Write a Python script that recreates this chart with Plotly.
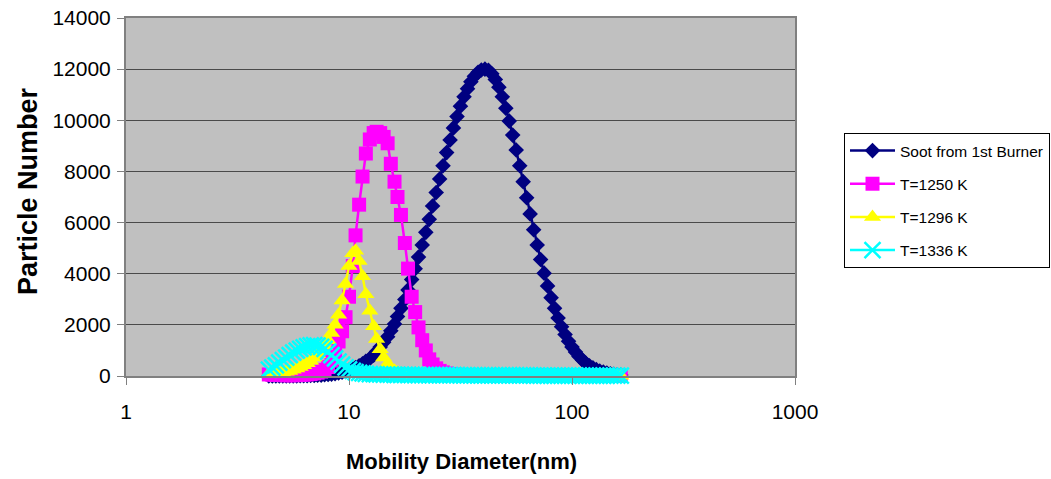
import plotly.graph_objects as go

# Mobility diameters (nm), SMPS channels
diameter_nm = [
    4.37, 4.53, 4.70, 4.87, 5.05, 5.23, 5.42, 5.62, 5.83, 6.04,
    6.26, 6.49, 6.73, 6.98, 7.23, 7.50, 7.77, 8.06, 8.35, 8.66,
    8.98, 9.31, 9.65, 10.0, 10.4, 10.7, 11.1, 11.5, 11.9, 12.4,
    12.9, 13.3, 13.8, 14.3, 14.9, 15.4, 16.0, 16.5, 17.1, 17.8,
    18.4, 19.1, 19.8, 20.5, 21.3, 22.1, 22.9, 23.7, 24.6, 25.5,
    26.4, 27.4, 28.4, 29.4, 30.5, 31.6, 32.8, 34.0, 35.2, 36.5,
    37.9, 39.2, 40.7, 42.2, 43.7, 45.3, 47.0, 48.7, 50.5, 52.3,
    54.2, 56.2, 58.3, 60.4, 62.6, 64.9, 67.3, 69.8, 72.3, 75.0,
    77.7, 80.6, 83.5, 86.6, 89.8, 93.1, 96.5, 100.0, 103.7, 107.5,
    111.4, 115.5, 119.7, 124.1, 128.6, 133.2, 138.2, 143.3, 148.6, 154.0,
    159.6, 165.5,
]

soot_1st_burner = [
    1, 1, 1, 2, 2, 3, 4, 5, 6, 8,
    10, 13, 17, 22, 28, 36, 46, 59, 74, 94,
    117, 145, 179, 221, 271, 330, 399, 481, 577, 687,
    815, 962, 1130, 1319, 1532, 1769, 2034, 2326, 2646, 2993,
    3368, 3770, 4199, 4650, 5125, 5617, 6126, 6647, 7174, 7702,
    8225, 8736, 9231, 9703, 10145, 10552, 10918, 11238, 11506, 11720,
    11875, 11968, 12000, 11955, 11820, 11599, 11296, 10918, 10472, 9969,
    9420, 8836, 8225, 7600, 6970, 6340, 5720, 5125, 4556, 4022,
    3524, 3064, 2646, 2266, 1926, 1624, 1359, 1130, 934, 762,
    621, 499, 399, 317, 249, 195, 152, 117, 89, 68,
    51, 38,
]

t_1250 = [
    60, 50, 40, 40, 35, 30, 30, 30, 35, 40,
    50, 60, 80, 100, 130, 170, 240, 350, 600, 900,
    1350, 1750, 2300, 3100, 4300, 5500, 6700, 7800, 8700, 9250,
    9500, 9550, 9500, 9350, 9100, 8300, 7600, 7000, 6300, 5200,
    4200, 3100, 2500, 1900, 1400, 1000, 650, 450, 300, 200,
    140, 100, 70, 55, 45, 40, 35, 32,
    30, 28, 27, 26, 25, 24, 23, 22, 22, 21,
    20, 20, 19, 18, 18, 17, 17, 16, 16, 15,
    15, 14, 14, 14, 13, 13, 12, 12, 12, 11,
    11, 11, 10, 10, 10, 10, 9, 9, 9, 9,
    8, 8, 8, 8,
]

t_1296 = [
    80, 90, 100, 120, 140, 170, 200, 240, 290, 350,
    420, 500, 600, 720, 850, 1000, 1180, 1400, 1680, 2000,
    2400, 2950, 3600, 4300, 4800, 4900, 4500, 3900, 3200, 2550,
    1950, 1450, 1050, 720, 480, 320, 210, 140, 100, 70,
    50, 40, 35, 30,
    28, 26, 25, 24, 22, 21, 20, 19, 18, 18,
    17, 16, 16, 15, 15, 14, 14, 13, 13, 13,
    12, 12, 12, 11, 11, 11, 10, 10, 10, 10,
    9, 9, 9, 9, 9, 8, 8, 8, 8, 8,
    7, 7, 7, 7, 7, 7, 6, 6, 6, 6,
    6, 6, 5, 5, 5, 5, 5, 5,
]

t_1336 = [
    250, 330, 420, 520, 620, 720, 820, 910, 990, 1060,
    1120, 1170, 1200, 1210, 1190, 1140, 1060, 950, 820, 690,
    560, 440, 340, 260, 200, 150, 120, 100, 85, 75,
    70, 65, 60, 56, 52, 50, 48, 46, 44, 42,
    41, 40, 39, 38, 37, 36, 35, 34, 34, 33,
    32, 32, 31, 30, 30, 29, 29, 28, 28, 27,
    27, 26, 26, 25, 25, 24, 24, 23, 23, 22,
    22, 21, 21, 20, 20, 20, 19, 19, 18, 18,
    18, 17, 17, 17, 16, 16, 16, 15, 15, 15,
    14, 14, 14, 13, 13, 13, 12, 12, 12, 11,
    11, 10,
]

series_names = ["Soot from 1st Burner", "T=1250 K", "T=1296 K", "T=1336 K"]
x_tick_vals = [1, 10, 100, 1000]
x_tick_text = ["1", "10", "100", "1000"]

FONT = "Liberation Sans, Arial, sans-serif"

fig = go.Figure()

styles = [
    (soot_1st_burner, "#000080", dict(symbol="diamond", size=12, color="#000080")),
    (t_1250, "#FF00FF", dict(symbol="square", size=14, color="#FF00FF")),
    (t_1296, "#FFFF00", dict(symbol="triangle-up", size=15, color="#FFFF00")),
    (t_1336, "#00FFFF", dict(symbol="x-thin", size=16, color="#00FFFF",
                             line=dict(color="#00FFFF", width=2.5))),
]

for i, (vals, col, mk) in enumerate(styles):
    fig.add_trace(go.Scatter(
        x=diameter_nm, y=vals, name=series_names[i],
        mode="lines+markers",
        line=dict(color=col, width=2.5),
        marker=mk,
        cliponaxis=False,
        legendgroup=f"g{i}",
    ))

fig.update_layout(
    width=1051, height=479,
    margin=dict(l=126, r=256, t=18, b=103, autoexpand=False),
    paper_bgcolor="white",
    plot_bgcolor="#C0C0C0",
    font=dict(family=FONT, color="black", size=21),
    showlegend=True,
    legend=dict(
        x=(844 - 126) / 669, y=(376 - 133) / 358,
        xanchor="left", yanchor="top",
        bgcolor="white", bordercolor="black", borderwidth=1,
        font=dict(family=FONT, size=15.5, color="black"),
        itemwidth=45,
        traceorder="grouped", tracegroupgap=10,
    ),
    xaxis=dict(
        type="log", range=[0, 3],
        tickvals=x_tick_vals, ticktext=x_tick_text,
        showgrid=False, zeroline=False,
        ticks="outside", ticklen=7, tickwidth=1, tickcolor="#808080",
        showline=True, linecolor="#808080", linewidth=2, mirror=True,
        tickfont=dict(family=FONT, size=21, color="black"),
        ticklabelstandoff=9,
        ticklabeloverflow="allow",
    ),
    yaxis=dict(
        range=[0, 14000], dtick=2000, tick0=0, tickformat="d",
        showgrid=True, gridcolor="#4a4a4a", gridwidth=1,
        zeroline=False,
        ticks="outside", ticklen=7, tickwidth=1, tickcolor="#808080",
        showline=True, linecolor="#808080", linewidth=2, mirror=True,
        tickfont=dict(family=FONT, size=21, color="black"),
        ticklabelstandoff=2,
        ticklabeloverflow="allow",
    ),
    annotations=[
        dict(text="<b>Mobility Diameter(nm)</b>", xref="paper", yref="paper",
             x=(461 - 126) / 669, y=(376 - 462) / 358,
             xanchor="center", yanchor="middle", showarrow=False,
             font=dict(family=FONT, size=22, color="black")),
        dict(text="<b>Particle Number</b>", xref="paper", yref="paper",
             x=(28 - 126) / 669, y=(376 - 191) / 358, textangle=-90,
             xanchor="center", yanchor="middle", showarrow=False,
             font=dict(family=FONT, size=27, color="black")),
    ],
)

# remove the default 8px page margin so the figure sits at the window corner
fig.write_html("out.html",
               config={"displayModeBar": False},
               post_script="document.body.style.margin='0';")
